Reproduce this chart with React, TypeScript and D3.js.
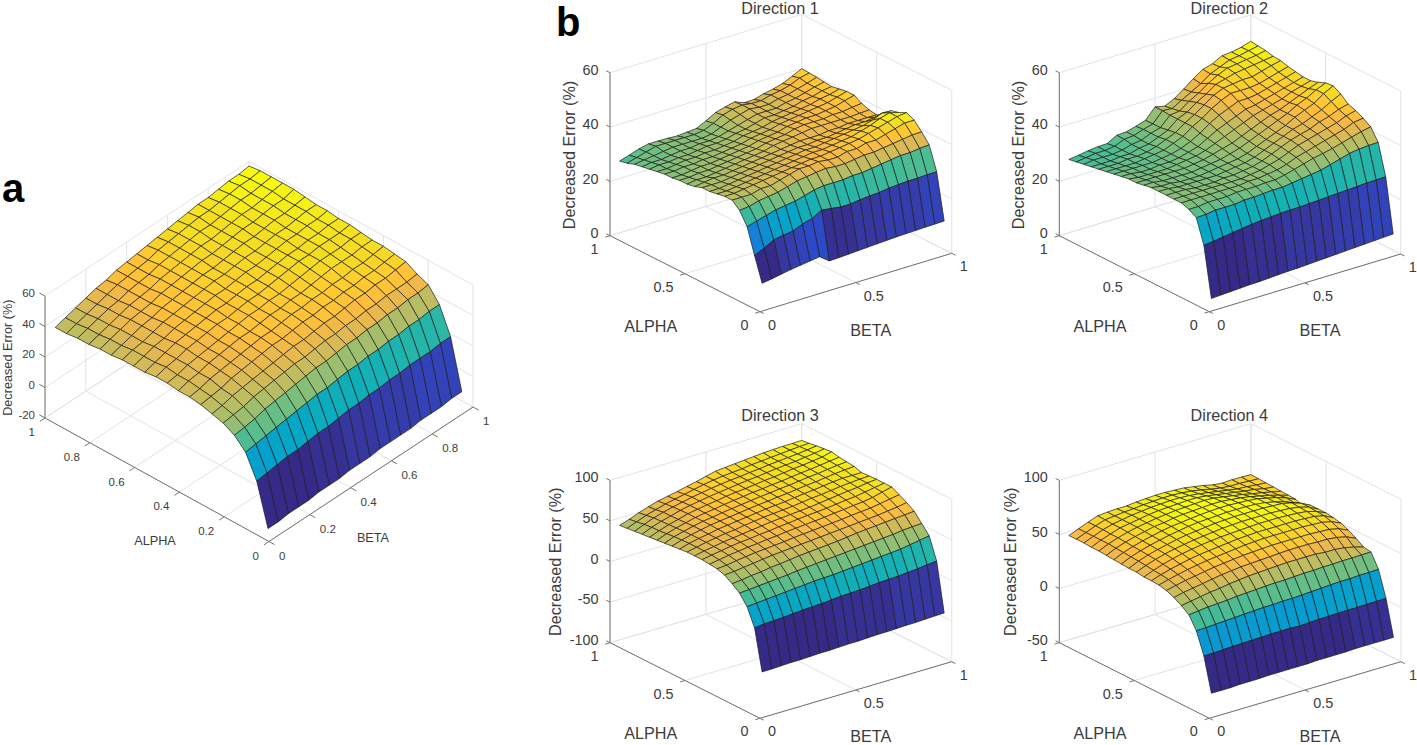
import * as d3 from "d3";

// grid of the surfaces, same for alpha and beta
const gridSteps = [0.05, 0.1, 0.15, 0.2, 0.25, 0.3, 0.35, 0.4, 0.45, 0.5, 0.55, 0.6, 0.65, 0.7, 0.75, 0.8, 0.85, 0.9, 0.95, 1];

const ticksFine = [0, 0.2, 0.4, 0.6, 0.8, 1];
const ticksCoarse = [0, 0.5, 1];

// rows = alpha, columns = beta
const surfaceA = [
  [-20, -20, -19, -19, -19, -18, -18, -18, -17, -17, -17, -16, -16, -16, -16, -15, -15, -15, -14, -14],
  [7, 8, 9, 10, 10, 11, 12, 12, 13, 14, 14, 15, 15, 16, 16, 17, 17, 17, 18, 18],
  [22, 23, 24, 25, 26, 27, 28, 29, 29, 30, 31, 31, 32, 32, 33, 33, 34, 34, 35, 35],
  [29, 30, 31, 33, 34, 35, 36, 37, 38, 38, 39, 40, 40, 41, 41, 42, 42, 43, 43, 44],
  [33, 34, 35, 37, 38, 39, 40, 41, 41, 42, 43, 43, 44, 44, 45, 45, 46, 46, 46, 47],
  [35, 36, 38, 39, 40, 41, 42, 43, 44, 44, 45, 46, 46, 47, 48, 48, 49, 49, 50, 51],
  [37, 38, 39, 41, 42, 43, 44, 45, 45, 46, 47, 47, 48, 48, 49, 49, 50, 50, 51, 52],
  [38, 39, 41, 42, 43, 44, 45, 46, 46, 47, 48, 48, 49, 49, 50, 50, 51, 51, 52, 53],
  [38, 40, 41, 43, 44, 45, 46, 46, 47, 48, 48, 49, 49, 50, 51, 52, 52, 52, 53, 53],
  [39, 40, 42, 43, 44, 45, 46, 47, 48, 48, 49, 49, 50, 51, 52, 53, 53, 53, 54, 54],
  [39, 41, 42, 44, 45, 46, 47, 47, 48, 49, 49, 50, 51, 52, 53, 53, 54, 54, 54, 55],
  [38, 40, 42, 44, 45, 46, 47, 48, 48, 49, 50, 50, 51, 52, 53, 53, 54, 54, 55, 55],
  [38, 40, 42, 43, 45, 46, 47, 48, 49, 49, 50, 51, 51, 52, 53, 54, 54, 55, 55, 56],
  [38, 40, 41, 43, 45, 46, 47, 48, 49, 50, 50, 51, 52, 52, 53, 54, 54, 55, 56, 56],
  [37, 39, 41, 43, 44, 46, 47, 48, 49, 50, 50, 51, 52, 53, 53, 54, 55, 55, 56, 57],
  [37, 39, 41, 43, 44, 45, 47, 48, 49, 50, 51, 51, 52, 53, 54, 54, 55, 56, 56, 58],
  [36, 38, 40, 42, 44, 45, 46, 48, 49, 50, 51, 52, 52, 53, 54, 55, 55, 56, 57, 58],
  [36, 38, 40, 42, 43, 45, 46, 47, 49, 50, 51, 52, 53, 53, 54, 55, 56, 56, 57, 58],
  [35, 37, 39, 41, 43, 45, 46, 47, 48, 50, 51, 52, 53, 54, 54, 55, 56, 57, 57, 58],
  [35, 37, 39, 41, 43, 44, 46, 47, 48, 49, 50, 51, 52, 53, 54, 54, 55, 56, 56, 57],
];

const surfaceDir1 = [
  [8, 8.5, 9.2, 9.8, 10.3, 10.8, 11.3, 8.7, 8.8, 9, 9.2, 9.4, 9.6, 9.8, 10, 10.1, 10.2, 10.3, 10.4, 10.5],
  [16.8, 18.4, 20.4, 21, 21.5, 23, 24, 26, 25.5, 25, 25, 25.5, 25.8, 26, 26.5, 26.8, 27, 27, 27.2, 27.2],
  [26, 27, 28, 29, 29.5, 30, 31, 32, 32.5, 32.5, 32.5, 33, 33, 33.5, 34, 34.5, 35, 35, 35.5, 35.7],
  [30.6, 31, 32, 32.5, 33, 34, 35, 35.5, 36, 36.4, 36, 36, 36.5, 37, 37, 37.5, 38, 38.5, 39, 39.1],
  [33, 33, 33, 34, 34, 35, 36, 37, 37, 37.5, 37, 37, 38, 38, 39, 39, 40, 41, 42, 42],
  [33, 33, 33.5, 34, 34.5, 35, 35.5, 36, 36.5, 37, 37, 37.5, 38, 38.5, 39, 40, 41, 42, 43, 43.4],
  [32.5, 32.5, 33, 33.5, 34, 34.5, 35, 35.5, 36, 36.5, 37, 37, 37.5, 38, 38.5, 39.5, 40.5, 42, 43, 42],
  [32, 32, 32.5, 33, 33.5, 34, 34.5, 35, 35.5, 36, 36.5, 36.5, 37, 37.5, 38, 38.5, 39, 40, 41.5, 41.3],
  [32, 32, 32, 32.5, 33, 33.5, 34, 34.5, 35, 35.5, 36, 36, 36.5, 36.5, 37, 37.5, 38, 38, 38.5, 38.3],
  [31, 31.5, 32, 32, 32.5, 33, 33.5, 34, 34.5, 35, 35.5, 36, 36, 36, 36.5, 36.5, 37, 37, 37, 37],
  [30.5, 31, 31, 31.5, 32, 32.5, 33, 33.5, 34, 35, 35.5, 36, 36.5, 37, 37, 37, 37, 37, 37.2, 37.4],
  [30.5, 30.5, 31, 31, 31.5, 32, 32.5, 33, 33.5, 34.5, 35, 35.5, 36.5, 37, 37, 37, 37.5, 37.5, 38, 38.4],
  [30, 30, 30.5, 31, 31, 31.5, 32, 32.5, 33, 34, 34.5, 35, 36, 36.5, 37, 37, 37.5, 38, 39, 40],
  [30, 30, 30.5, 30.5, 31, 31, 31.5, 32, 32.5, 33.5, 34, 34.5, 35.5, 36, 36.5, 37, 37.5, 38, 39, 40],
  [29.5, 29.5, 30, 30.5, 30.5, 31, 31, 31.5, 32, 33, 33.5, 34, 35, 35.5, 36, 36.5, 37, 38, 38.5, 39.5],
  [29, 29.5, 29.5, 30, 30, 30.5, 31, 31, 31.5, 32.5, 33, 34, 35, 35, 35.5, 36, 37, 37.5, 38.5, 39],
  [28.5, 29, 29, 29.5, 30, 30, 30.5, 30.5, 31, 32, 33, 34, 35, 35, 35, 36, 36.5, 37.5, 38.5, 39.3],
  [28, 28.5, 29, 29.5, 30, 30, 30, 30, 30.5, 32, 33.5, 34.5, 35.5, 35, 35, 36, 36.5, 37.5, 38.5, 39.6],
  [27, 28, 29, 30, 30, 30, 30, 30, 30.5, 32, 34, 35, 35.5, 35, 35, 36, 36.5, 37.5, 39, 39.8],
  [26.4, 27.5, 28.7, 29.5, 29.5, 29.4, 29.2, 29.5, 29.8, 31.5, 33.5, 34.5, 35.3, 33.9, 34, 35, 35.7, 36.7, 38.3, 40],
];

const surfaceDir2 = [
  [2.4, 2.6, 2.8, 3, 3.2, 3.3, 3.5, 3.7, 3.9, 4, 4.2, 4.4, 4.6, 4.8, 5, 5.2, 5.4, 5.6, 5.8, 6],
  [20.6, 21, 21.5, 22, 22.5, 23, 23.3, 23.6, 23.8, 24, 24, 24.2, 24.4, 24.6, 24.8, 25, 25.2, 25.4, 25.5, 25.6],
  [29.3, 29.5, 30, 30, 30, 30.5, 30.5, 30.8, 31, 31, 31.5, 32, 32.5, 33, 34, 35, 36, 36.5, 36.8, 36.9],
  [31, 31, 31.5, 31.5, 31.5, 32, 32, 32, 32.3, 32.3, 33, 34, 35, 36, 36.7, 37.5, 38.5, 39.5, 40.5, 41.2],
  [32, 32, 32, 32, 32, 32, 32, 32.5, 32.5, 33, 33.5, 34.5, 36, 37, 38, 39, 40, 41, 42.5, 43],
  [32, 32, 32, 32, 32, 32, 32, 32, 32.5, 33, 34, 35, 36.5, 38, 39, 40, 41, 42, 43.5, 44.4],
  [32, 32, 32, 31.5, 31.5, 31.5, 32, 32, 32.5, 33, 34, 35.5, 37, 38.5, 39.5, 40.5, 42, 43, 44.5, 45.4],
  [32, 32, 31.5, 31.5, 31.5, 31.5, 31.5, 32, 32.5, 33, 34, 35.5, 37, 38.5, 40, 41, 42.5, 44, 46, 47.7],
  [32, 31.5, 31.5, 31, 31, 31, 31.5, 32, 32.5, 33, 34, 35.5, 37, 38.5, 40, 42, 43.5, 45, 47.5, 49.3],
  [31.5, 31.5, 31, 31, 31, 31, 31.5, 32, 32.5, 33.5, 34.5, 36, 37.5, 39, 40.5, 42, 44, 45.5, 47.5, 49],
  [31, 31, 31, 31, 31, 31, 31.5, 32, 33, 34, 35, 36.5, 38, 39.5, 41, 42, 43.5, 45, 46.5, 47.8],
  [31, 30.5, 30.5, 30.5, 30.5, 31, 31.5, 32, 33, 34.5, 36, 37.5, 39, 40.5, 41.5, 42.5, 43.5, 45, 46, 47],
  [30.5, 30.5, 30, 30, 30.5, 30.5, 31, 32, 33, 35, 37, 38.5, 40, 41.5, 42, 43, 44, 45, 46, 47],
  [30, 30, 30, 30, 30, 30.5, 31, 32, 33.5, 35.5, 38, 40, 41.5, 43, 43, 43.5, 44.5, 45.5, 46.5, 47.5],
  [29.5, 29.5, 29.5, 29.5, 30, 30.5, 31, 32.5, 34, 36.5, 38.5, 41, 43, 44.5, 44.5, 44.5, 45, 46, 47, 48],
  [29, 29, 29, 29.5, 29.5, 30, 31, 32.5, 34, 36.5, 38.5, 41, 43.5, 45, 45.5, 46, 46, 47, 48, 48.8],
  [28.5, 28.5, 28.5, 29, 29, 30, 30.5, 32, 33.5, 36.5, 38, 40.5, 42.5, 45, 46, 47, 47.5, 48, 48.5, 49],
  [28, 28.5, 28.5, 28.5, 29, 30, 30.5, 32, 33, 36.5, 37, 39.5, 41.5, 44, 46, 47.5, 48, 48.5, 49, 49.7],
  [27.5, 28, 28.5, 28.5, 29, 30.5, 30.8, 32, 33, 36.8, 36.5, 38.5, 40.5, 42.5, 45, 46.5, 48, 48.5, 49.3, 50],
  [27, 27.5, 28.1, 28.5, 28.6, 30.6, 30.8, 31.8, 32.9, 36.8, 36, 37.7, 40.2, 42.9, 45.3, 46.3, 48.2, 48.5, 49.2, 50.3],
];

const surfaceDir3 = [
  [-51, -51, -50.5, -50, -50, -49.5, -49, -49, -48.5, -48, -48, -47.5, -47, -47, -46.5, -46, -46, -45.5, -45, -44.6],
  [-1.5, 0, 0.5, 1, 2, 3, 3.5, 4, 5, 6, 6.5, 7, 8, 9, 9.5, 10, 11, 12, 13.5, 14.5],
  [20, 21, 22, 23, 24, 25, 26, 27, 27.5, 28, 29, 30, 31, 32, 33, 34, 35, 37, 39, 41],
  [32, 33, 34, 35, 36, 37, 38.5, 39.5, 40.5, 41.5, 42.5, 43.5, 44.5, 45.5, 46.5, 47.5, 48.5, 50, 51, 51.5],
  [39, 40, 42, 43, 45, 46, 47.5, 49, 50, 51, 52, 53, 54.5, 56, 57, 58, 59, 60, 61, 62],
  [45, 46, 47.5, 49, 50.5, 52, 53, 54, 55, 56, 57, 58, 59, 60, 61, 62, 63, 64.5, 66, 68],
  [48, 49, 51, 52.5, 54, 55, 56, 57, 58.5, 59.5, 60.5, 61.5, 62.5, 63.5, 65, 66, 67, 69, 71, 73],
  [49, 51, 53, 54.5, 56, 57, 58.5, 59.5, 61, 62, 63, 64, 65, 66.5, 67.5, 69, 70, 72, 75, 78],
  [50, 52, 54, 56, 57.5, 58.5, 60, 61, 62.5, 63.5, 65, 66, 67, 68, 69.5, 71, 72, 74, 76, 78],
  [50, 52.5, 54.5, 56.5, 58, 59.5, 61, 62.5, 64, 65, 66, 67, 68, 69.5, 71, 72.5, 74, 75, 77, 78],
  [50, 52.5, 55, 57, 59, 60, 62, 63.5, 65, 66, 67, 68, 69.5, 71, 72, 73.5, 75, 76, 77, 77.5],
  [49, 52.5, 55, 57, 59.5, 61, 62.5, 64, 65.5, 67, 68, 69, 70.5, 72, 73, 74.5, 76, 77, 77, 77],
  [48, 52, 55, 57.5, 60, 61.5, 63, 64.5, 66, 67.5, 68.5, 70, 71, 72.5, 74, 75, 76.5, 78, 79, 80],
  [47, 51.5, 54.5, 57.5, 60, 61.5, 63.5, 65, 66.5, 68, 69.5, 70.5, 72, 73, 74.5, 76, 77, 78.5, 80, 81],
  [46, 50.5, 54, 57, 60, 62, 63.5, 65.5, 67, 68.5, 70, 71, 72.5, 73.5, 75, 76.5, 77.5, 79, 80.5, 82],
  [45, 49.5, 53.5, 56.5, 60, 62, 64, 65.5, 67.5, 69, 70, 71.5, 73, 74, 75.5, 77, 78, 79.5, 81, 84],
  [44, 49, 53, 56, 59.5, 62, 64, 66, 67.5, 69, 70.5, 72, 73, 74.5, 76, 77, 78, 79.5, 81, 83],
  [43, 48, 52.5, 56, 59, 61.5, 64, 66, 68, 69.5, 71, 72, 73.5, 74.5, 76, 77, 78, 79, 80.5, 82],
  [42, 46.5, 51, 54.5, 58, 60.5, 63, 65.5, 68, 70, 71.5, 72.5, 73.5, 75, 76, 77, 78, 79, 80, 80.5],
  [41, 45, 49.5, 53.5, 57, 59.5, 61.7, 64.5, 67, 70, 72.8, 74, 75, 76, 77, 78, 78.6, 79, 79.2, 79.4],
];

const surfaceDir4 = [
  [-33, -33, -33, -32.5, -32.5, -32.5, -32, -32, -32, -32, -32, -31.5, -31.5, -31.5, -31.5, -31, -31, -31, -31, -31],
  [-2, -2, -1.5, -1, -1, -0.5, -0.5, 0, 0, 0, -0.5, 0, 0.5, 0.5, 1, 1, 1, 1.2, 1.3, 1.4],
  [17.7, 18, 18.5, 19, 19.5, 20, 20.5, 21, 21, 21.5, 21.5, 22, 22.5, 23, 23.5, 24, 24, 24.5, 24.5, 24.8],
  [29, 30, 31, 31.5, 32, 33, 33.5, 34, 34.5, 35, 35, 35.5, 36, 36, 36.5, 36.5, 37, 37, 37.2, 37.4],
  [34, 35.5, 37, 38.5, 39.5, 41, 42, 43, 43.5, 44, 44.5, 45, 45, 45, 45, 44, 44, 43, 41, 38.5],
  [38, 40, 41.5, 43, 44.5, 46, 47, 48, 48.5, 49, 49.5, 50, 50.5, 50.5, 50.5, 50, 50, 49, 47, 43],
  [41, 43, 45, 46.5, 48, 49.5, 50.5, 51.5, 52.5, 53, 53.5, 54, 54, 54, 54, 54, 53.5, 53, 51, 47],
  [42.5, 45, 47, 49, 50.5, 52, 53, 54, 55, 56, 56.5, 57, 57, 57, 57, 57, 56.5, 56, 54, 50],
  [43, 46, 48.5, 50.5, 52.5, 54, 55, 56, 57, 58, 58.5, 59, 59, 59, 59, 59, 58.5, 58, 56, 51.5],
  [43, 46.5, 49.5, 52, 54, 55.5, 57, 58, 59, 59.5, 60, 60.5, 61, 61, 61, 60.5, 60, 59, 56.5, 52.5],
  [44, 47.5, 50.5, 53, 55, 56.5, 58, 59, 60, 61, 61.5, 62, 62, 62, 62, 61.5, 61, 59.5, 57, 52.5],
  [44, 48, 51, 53.5, 55.5, 57.5, 59, 60, 61, 62, 62.5, 63, 63, 63, 63, 62.5, 62, 60, 57, 52.5],
  [44.5, 48.5, 51.5, 54, 56, 58, 59.5, 61, 62, 62.5, 63, 63.5, 63.5, 63.5, 63, 62, 60, 57.5, 54, 47],
  [45, 49, 52, 54.5, 56.5, 58.5, 60, 61, 62, 63, 63.5, 64, 64, 63.5, 63, 62, 60, 58, 55, 51],
  [45.5, 49.5, 52.5, 55, 57, 59, 60, 61.5, 62.5, 63, 63.5, 64, 64, 63, 62, 60.5, 58.5, 56.5, 54, 51.3],
  [46, 50, 53, 55.5, 57.5, 59, 60.5, 61.5, 62.5, 63, 63.5, 64, 63.5, 62, 60.5, 59, 57, 55.5, 53.5, 51.6],
  [46, 50, 53, 56, 57.5, 59, 60.5, 61.5, 62, 62.5, 63, 63, 62, 60.5, 59, 57.5, 56, 55, 53, 52],
  [46.5, 50, 53.5, 56, 57.5, 59, 60, 61, 61.5, 62, 62, 61.5, 60.5, 59, 57.5, 56, 54.5, 54, 53, 52.3],
  [46.5, 50, 53.5, 56.5, 57.5, 58.5, 59, 60, 60.5, 61, 61, 60.5, 59.5, 58, 56, 54.5, 53.5, 53.5, 53, 52.6],
  [46.4, 50, 53.5, 56.8, 57.5, 58, 58, 59, 59.5, 60, 60, 59.5, 59, 57.5, 56, 54, 53, 53.5, 53.3, 53],
];

// MATLAB parula, 64 steps
const parulaRgb = [
  [0.2081, 0.1663, 0.5292], [0.2116, 0.1898, 0.5777], [0.2123, 0.2138, 0.627], [0.2081, 0.2386, 0.6771],
  [0.1959, 0.2645, 0.7279], [0.1707, 0.2919, 0.7792], [0.1253, 0.3242, 0.8303], [0.0591, 0.3598, 0.8683],
  [0.0117, 0.3875, 0.882], [0.006, 0.4086, 0.8828], [0.0165, 0.4266, 0.8786], [0.0329, 0.443, 0.872],
  [0.0498, 0.4586, 0.8641], [0.0629, 0.4737, 0.8554], [0.0723, 0.4887, 0.8467], [0.0779, 0.504, 0.8384],
  [0.0793, 0.52, 0.8312], [0.0749, 0.5375, 0.8263], [0.0641, 0.557, 0.824], [0.0488, 0.5772, 0.8228],
  [0.0343, 0.5966, 0.8199], [0.0265, 0.6137, 0.8135], [0.0239, 0.6287, 0.8038], [0.0231, 0.6418, 0.7913],
  [0.0228, 0.6535, 0.7768], [0.0267, 0.6642, 0.7607], [0.0384, 0.6743, 0.7436], [0.059, 0.6838, 0.7254],
  [0.0843, 0.6928, 0.7062], [0.1133, 0.7015, 0.6859], [0.1453, 0.7098, 0.6646], [0.1801, 0.7177, 0.6424],
  [0.2178, 0.725, 0.6193], [0.2586, 0.7317, 0.5954], [0.3022, 0.7376, 0.5712], [0.3482, 0.7424, 0.5473],
  [0.3953, 0.7459, 0.5244], [0.442, 0.7481, 0.5033], [0.4871, 0.7491, 0.484], [0.53, 0.7491, 0.4661],
  [0.5709, 0.7485, 0.4494], [0.6099, 0.7473, 0.4337], [0.6473, 0.7456, 0.4188], [0.6834, 0.7435, 0.4044],
  [0.7184, 0.7411, 0.3905], [0.7525, 0.7384, 0.3768], [0.7858, 0.7356, 0.3633], [0.8185, 0.7327, 0.3498],
  [0.8507, 0.7299, 0.336], [0.8824, 0.7274, 0.3217], [0.9139, 0.7258, 0.3063], [0.945, 0.7261, 0.2886],
  [0.9739, 0.7314, 0.2666], [0.9938, 0.7455, 0.2403], [0.999, 0.7653, 0.2164], [0.9955, 0.7861, 0.1967],
  [0.988, 0.8066, 0.1794], [0.9789, 0.8271, 0.1633], [0.9697, 0.8481, 0.1475], [0.9626, 0.8705, 0.1309],
  [0.9589, 0.8949, 0.1132], [0.9598, 0.9218, 0.0948], [0.9661, 0.9514, 0.0755], [0.9763, 0.9831, 0.0538],
];
const parula = parulaRgb.map(([r, g, b]) => d3.rgb(r * 255, g * 255, b * 255).formatHex());

const FONT = "'Liberation Sans', Arial, sans-serif";
const TEXT_COLOR = "#3c3c3c";
const AXIS_COLOR = "#74746a";
const GRID_COLOR = "#e2e3ea";
const MID = ".36em"; // centres the capitals and digits on y

type Pt = [number, number];

interface PanelProps {
  surface: number[][];
  title?: string;
  zDomain: [number, number];
  zTicks: number[];
  abTicks: number[];
  front: Pt;
  left: Pt;
  right: Pt;
  zHeight: number;
  tickSize: number;
  labelSize: number;
  titlePos?: Pt;
  alphaPos: Pt;
  betaPos: Pt;
  zLabelPos: Pt;
  tickGap: number;
  betaGap: number;
  tickDrop: number;
}

function SurfacePanel(p: PanelProps) {
  // parallel projection of the box, from its 3 visible floor corners
  const axX = d3.scaleLinear([0, 1], [0, p.left[0] - p.front[0]]);
  const axY = d3.scaleLinear([0, 1], [0, p.left[1] - p.front[1]]);
  const bxX = d3.scaleLinear([0, 1], [0, p.right[0] - p.front[0]]);
  const bxY = d3.scaleLinear([0, 1], [0, p.right[1] - p.front[1]]);
  const zY = d3.scaleLinear(p.zDomain, [0, -p.zHeight]);
  const project = (a: number, b: number, z: number): Pt => [
    p.front[0] + axX(a) + bxX(b),
    p.front[1] + axY(a) + bxY(b) + zY(z),
  ];

  const color = d3.scaleQuantize<string>()
    .domain(d3.extent(p.surface.flat()) as [number, number])
    .range(parula);

  const lineGen = d3.line();
  const [z0, z1] = p.zDomain;

  const gridPaths: string[] = [];
  p.abTicks.forEach((t) => {
    gridPaths.push(lineGen([project(t, 0, z0), project(t, 1, z0)])!);
    gridPaths.push(lineGen([project(0, t, z0), project(1, t, z0)])!);
    gridPaths.push(lineGen([project(1, t, z0), project(1, t, z1)])!);
    gridPaths.push(lineGen([project(t, 1, z0), project(t, 1, z1)])!);
  });
  p.zTicks.forEach((z) => {
    gridPaths.push(lineGen([project(1, 0, z), project(1, 1, z), project(0, 1, z)])!);
  });

  // painter's order: far corner (alpha = beta = 1) first
  const faces: { d: string; fill: string }[] = [];
  for (let i = gridSteps.length - 2; i >= 0; i--) {
    for (let j = gridSteps.length - 2; j >= 0; j--) {
      const d = lineGen([
        project(gridSteps[i], gridSteps[j], p.surface[i][j]),
        project(gridSteps[i + 1], gridSteps[j], p.surface[i + 1][j]),
        project(gridSteps[i + 1], gridSteps[j + 1], p.surface[i + 1][j + 1]),
        project(gridSteps[i], gridSteps[j + 1], p.surface[i][j + 1]),
      ])!;
      faces.push({ d: d + "Z", fill: color(p.surface[i][j]) });
    }
  }

  const tickLen = 0.025;

  return (
    <g fontFamily={FONT} fill={TEXT_COLOR}>
      <path d={gridPaths.join("")} fill="none" stroke={GRID_COLOR} strokeWidth={1} />
      {/* axes */}
      <path
        d={lineGen([project(1, 0, z0), project(0, 0, z0), project(0, 1, z0)])!}
        fill="none"
        stroke={AXIS_COLOR}
        strokeWidth={1}
      />
      <path d={lineGen([project(1, 0, z0), project(1, 0, z1)])!} fill="none" stroke={AXIS_COLOR} strokeWidth={1} />
      {p.abTicks.map((t) => (
        <g key={t}>
          <path d={lineGen([project(t, 0, z0), project(t, -tickLen, z0)])!} stroke={AXIS_COLOR} />
          <path d={lineGen([project(0, t, z0), project(-tickLen, t, z0)])!} stroke={AXIS_COLOR} />
          <text
            x={project(t, 0, z0)[0] - p.tickGap}
            y={project(t, 0, z0)[1] + p.tickDrop}
            dy={MID}
            textAnchor="end"
            fontSize={p.tickSize}
          >
            {t}
          </text>
          <text
            x={project(0, t, z0)[0] + p.betaGap}
            y={project(0, t, z0)[1] + p.tickDrop}
            dy={MID}
            fontSize={p.tickSize}
          >
            {t}
          </text>
        </g>
      ))}
      {p.zTicks.map((z) => (
        <g key={z}>
          <path d={lineGen([project(1, 0, z), project(1 + tickLen, 0, z)])!} stroke={AXIS_COLOR} />
          <text
            x={project(1, 0, z)[0] - p.tickGap}
            y={project(1, 0, z)[1] - 3}
            dy={MID}
            textAnchor="end"
            fontSize={p.tickSize}
          >
            {z}
          </text>
        </g>
      ))}
      {/* surface */}
      <g stroke="#1c1c1c" strokeWidth={0.7} strokeLinejoin="round">
        {faces.map((f, i) => (
          <path key={i} d={f.d} fill={f.fill} />
        ))}
      </g>
      {/* labels */}
      {p.title && p.titlePos && (
        <text x={p.titlePos[0]} y={p.titlePos[1]} dy={MID} textAnchor="middle" fontSize={p.labelSize}>
          {p.title}
        </text>
      )}
      <text x={p.alphaPos[0]} y={p.alphaPos[1]} dy={MID} textAnchor="middle" fontSize={p.labelSize}>
        ALPHA
      </text>
      <text x={p.betaPos[0]} y={p.betaPos[1]} dy={MID} textAnchor="middle" fontSize={p.labelSize}>
        BETA
      </text>
      <text
        transform={`translate(${p.zLabelPos[0]},${p.zLabelPos[1]}) rotate(-90)`}
        dy={MID}
        textAnchor="middle"
        fontSize={p.labelSize}
      >
        Decreased Error (%)
      </text>
    </g>
  );
}

const bigPanel = { abTicks: ticksCoarse, tickSize: 14.4, labelSize: 16.2, tickGap: 11.5, betaGap: 8, tickDrop: 13 };

export default function App() {
  return (
    <svg
      width={1417}
      height={745}
      viewBox="0 0 1417 745"
      style={{ position: "absolute", left: 0, top: 0, display: "block", background: "#fff" }}
    >
      <SurfacePanel
        surface={surfaceA}
        zDomain={[-20, 60]}
        zTicks={[-20, 0, 20, 40, 60]}
        abTicks={ticksFine}
        front={[269, 541.5]}
        left={[45, 418]}
        right={[473, 407]}
        zHeight={122}
        tickSize={11.5}
        labelSize={12.7}
        tickGap={10}
        betaGap={10}
        tickDrop={14}
        alphaPos={[155, 540.7]}
        betaPos={[373, 537.7]}
        zLabelPos={[7, 357.7]}
      />
      <SurfacePanel
        {...bigPanel}
        surface={surfaceDir1}
        title="Direction 1"
        titlePos={[780, 8]}
        zDomain={[0, 60]}
        zTicks={[0, 20, 40, 60]}
        front={[760, 311.7]}
        left={[610, 235.7]}
        right={[951.7, 253.3]}
        zHeight={163}
        alphaPos={[650.7, 326]}
        betaPos={[870.7, 330]}
        zLabelPos={[569, 155]}
      />
      <SurfacePanel
        {...bigPanel}
        surface={surfaceDir2}
        title="Direction 2"
        titlePos={[1229.3, 8]}
        zDomain={[0, 60]}
        zTicks={[0, 20, 40, 60]}
        front={[1209.3, 311.7]}
        left={[1059.3, 235.7]}
        right={[1400.7, 254]}
        zHeight={163}
        alphaPos={[1100, 326]}
        betaPos={[1320, 330]}
        zLabelPos={[1018, 155]}
      />
      <SurfacePanel
        {...bigPanel}
        surface={surfaceDir3}
        title="Direction 3"
        titlePos={[780, 415]}
        zDomain={[-100, 100]}
        zTicks={[-100, -50, 0, 50, 100]}
        front={[760, 718.3]}
        left={[610, 642.7]}
        right={[951.7, 661.7]}
        zHeight={162.4}
        alphaPos={[650.7, 732.7]}
        betaPos={[870.7, 736]}
        zLabelPos={[555.3, 561.7]}
      />
      <SurfacePanel
        {...bigPanel}
        surface={surfaceDir4}
        title="Direction 4"
        titlePos={[1229.3, 415]}
        zDomain={[-50, 100]}
        zTicks={[-50, 0, 50, 100]}
        front={[1209.3, 718.3]}
        left={[1059.3, 642.7]}
        right={[1401, 661.7]}
        zHeight={162.4}
        alphaPos={[1100, 732.7]}
        betaPos={[1320, 736]}
        zLabelPos={[1010, 561.7]}
      />
      <text x={2} y={201.5} fontFamily={FONT} fontWeight="bold" fontSize={40} fill="#000">
        a
      </text>
      <text x={556} y={36} fontFamily={FONT} fontWeight="bold" fontSize={40} fill="#000">
        b
      </text>
    </svg>
  );
}
